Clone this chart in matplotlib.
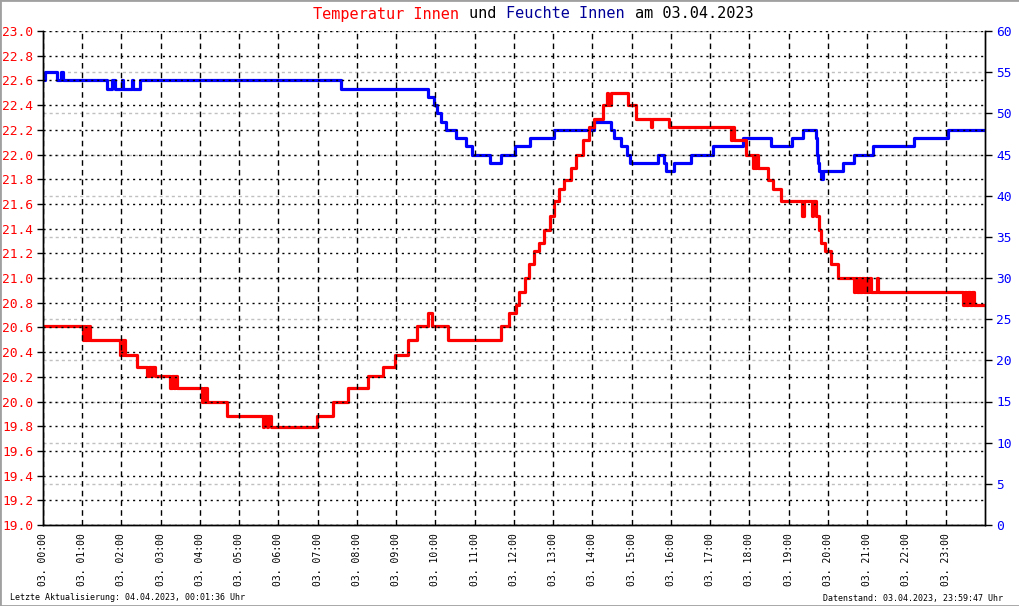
import matplotlib
matplotlib.use("Agg")
import numpy as np
import matplotlib.pyplot as plt
import matplotlib.patches as patches
from matplotlib.ticker import FormatStrFormatter

plt.rcParams["font.family"] = ["DejaVu Sans Mono"]

# ── data: step series (hour of day, value) ───────────────────────────────────
temp_hours = [
    0.00, 1.02, 1.05, 1.08, 1.11, 1.14, 1.17, 1.20, 1.96, 2.00, 2.03, 2.06, 2.10,
    2.40, 2.65, 2.70, 2.74, 2.78, 2.85, 3.24, 3.28, 3.33, 3.37, 3.42, 4.05, 4.09,
    4.13, 4.16, 4.19, 4.70, 5.61, 5.64, 5.70, 5.74, 5.80, 6.99, 7.40, 7.78, 8.29,
    8.65, 8.98, 9.31, 9.54, 9.80, 9.92, 10.31, 11.66, 11.86, 12.04, 12.14, 12.27,
    12.37, 12.50, 12.63, 12.76, 12.91, 13.01, 13.14, 13.27, 13.44, 13.57, 13.75,
    13.90, 14.03, 14.26, 14.38, 14.40, 14.46, 14.90, 15.10, 15.48, 15.52, 15.94,
    17.53, 17.56, 17.60, 17.91, 18.08, 18.11, 18.14, 18.17, 18.21, 18.47, 18.60,
    18.80, 19.34, 19.38, 19.58, 19.62, 19.70, 19.77, 19.82, 19.92, 20.08, 20.26,
    20.66, 20.70, 20.74, 20.78, 20.82, 20.86, 20.92, 20.96, 21.00, 21.05, 21.10,
    21.25, 21.28, 23.44, 23.48, 23.52, 23.56, 23.62, 23.66, 23.72, 24.00,
]
temp_values = [
    20.61, 20.50, 20.61, 20.50, 20.61, 20.50, 20.61, 20.50, 20.38, 20.50, 20.38, 20.50, 20.38,
    20.28, 20.21, 20.28, 20.21, 20.28, 20.21, 20.11, 20.21, 20.11, 20.21, 20.11, 20.00, 20.11,
    20.00, 20.11, 20.00, 19.88, 19.79, 19.88, 19.79, 19.88, 19.79, 19.88, 20.00, 20.11, 20.21,
    20.28, 20.38, 20.50, 20.61, 20.72, 20.61, 20.50, 20.61, 20.72, 20.78, 20.89, 21.00,
    21.11, 21.22, 21.28, 21.39, 21.50, 21.62, 21.72, 21.79, 21.89, 22.00, 22.12,
    22.22, 22.29, 22.40, 22.50, 22.40, 22.50, 22.40, 22.29, 22.22, 22.29, 22.22,
    22.12, 22.22, 22.12, 22.00, 21.89, 22.00, 21.89, 22.00, 21.89, 21.79, 21.72,
    21.62, 21.50, 21.62, 21.50, 21.62, 21.50, 21.39, 21.28, 21.22, 21.11, 21.00,
    20.89, 21.00, 20.89, 21.00, 20.89, 21.00, 20.89, 21.00, 20.89, 21.00, 20.89,
    21.00, 20.89, 20.78, 20.89, 20.78, 20.89, 20.78, 20.89, 20.78, 20.78,
]

hum_hours = [
    0.00, 0.05, 0.36, 0.46, 0.51, 1.63, 1.76, 1.84, 2.02, 2.04, 2.27, 2.30, 2.47,
    7.58, 9.82, 9.95, 10.03, 10.13, 10.26, 10.51, 10.77, 10.94, 11.38, 11.68, 12.02,
    12.40, 13.01, 14.03, 14.46, 14.54, 14.72, 14.87, 14.95, 15.66, 15.82, 15.87,
    16.07, 16.50, 17.07, 17.83, 18.55, 19.08, 19.36, 19.69, 19.71, 19.73, 19.75,
    19.78, 19.82, 19.88, 20.38, 20.66, 21.15, 22.19, 23.06, 24.00,
]
hum_values = [
    54, 55, 54, 55, 54, 53, 54, 53, 54, 53, 54, 53, 54,
    53, 52, 51, 50, 49, 48, 47, 46, 45, 44, 45, 46,
    47, 48, 49, 48, 47, 46, 45, 44, 45, 44, 43,
    44, 45, 46, 47, 46, 47, 48, 47, 46, 45, 44,
    43, 42, 43, 44, 45, 46, 47, 48, 48,
]

hour_labels = [f"03. {h:02d}:00" for h in range(24)]

title_parts = [("Temperatur Innen ", "#ff0000"), ("und ", "black"),
               ("Feuchte Innen ", "#000099"), ("am 03.04.2023", "black")]
footer_left = "Letzte Aktualisierung: 04.04.2023, 00:01:36 Uhr"
footer_right = "Datenstand: 03.04.2023, 23:59:47 Uhr"

# ── figure ───────────────────────────────────────────────────────────────────
W, H = 1020, 606
fig = plt.figure(figsize=(W / 100, H / 100), dpi=100)
fig.patch.set_facecolor("white")
fig.patches.append(patches.Rectangle((0, 0), 1, 1, transform=fig.transFigure,
                                     fill=False, edgecolor="#a0a0a0", linewidth=2))

ax = fig.add_axes([43 / W, 81 / H, 942 / W, 494 / H])
ax2 = ax.twinx()
ax.set_zorder(ax2.get_zorder() + 1)
ax.patch.set_visible(False)

ax2.step(hum_hours, hum_values, where="post", color="#0000ff", linewidth=2.3)
ax.step(temp_hours, temp_values, where="post", color="#ff0000", linewidth=2.3)

ax.set_xlim(0, 24)
ax.set_ylim(19, 23)
ax2.set_ylim(0, 60)

ax.set_xticks(range(24))
ax.set_xticklabels(hour_labels, rotation=90)
ax.set_yticks(np.arange(19, 23.001, 0.2))
ax.yaxis.set_major_formatter(FormatStrFormatter("%.1f"))
ax2.set_yticks(range(0, 61, 5))

ax.tick_params(axis="x", length=0, pad=6, labelsize=7)
ax.tick_params(axis="y", direction="out", length=4, width=1, pad=3,
               labelsize=9.3, labelcolor="#ff0000")
ax2.tick_params(axis="y", direction="out", length=5, width=1, pad=3,
                labelsize=9.3, labelcolor="#0000ff")

ax.set_axisbelow(False)
ax.yaxis.grid(True, color="black", linewidth=1, linestyle=(0, (1.5, 2.8)))
ax.xaxis.grid(True, color="black", linewidth=1, linestyle=(0, (4.0, 3.0)))
ax2.yaxis.grid(True, color="#c0c0c0", linewidth=1, linestyle=(0, (2.2, 2.2)))

for a in (ax, ax2):
    a.spines["top"].set_visible(False)
    for s in ("left", "right", "bottom"):
        a.spines[s].set_linewidth(1)
        a.spines[s].set_color("black")

# multi-coloured title (monospace -> fixed advance per character)
title_size = 11
char_w = 0.602 * title_size * 100 / 72
pos = 0
for txt, col in title_parts:
    fig.text((313 + pos * char_w) / W, 1 - 14 / H, txt, color=col,
             fontsize=title_size, ha="left", va="center")
    pos += len(txt)

fig.text(10 / W, 1 - 598 / H, footer_left, fontsize=6, ha="left", va="center")
fig.text(1003 / W, 1 - 598 / H, footer_right, fontsize=6, ha="right", va="center")

fig.savefig("out.png", dpi=100)
